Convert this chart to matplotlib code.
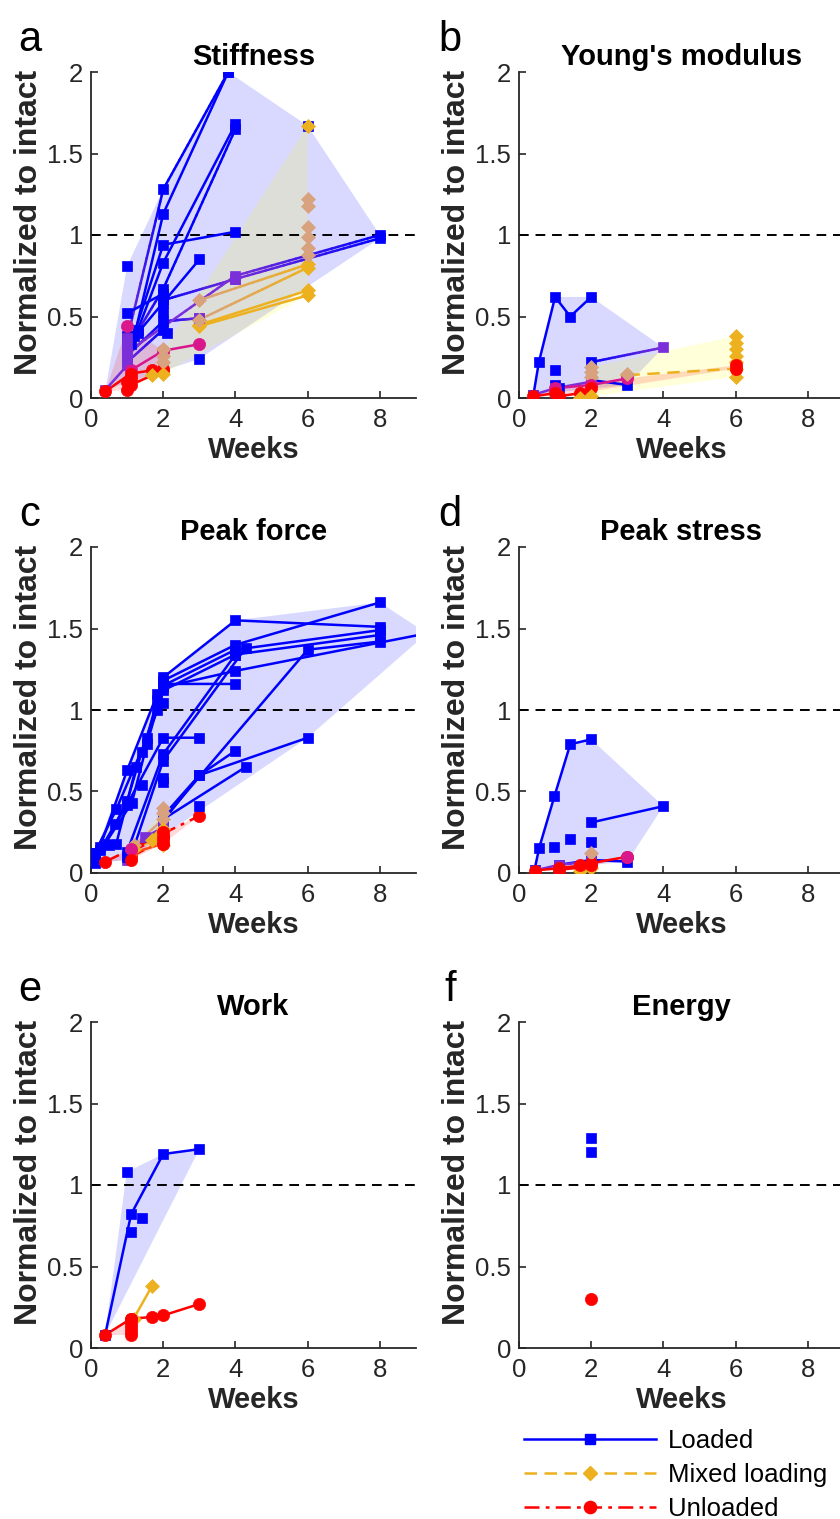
import numpy as np
import matplotlib
matplotlib.use('Agg')
import matplotlib.pyplot as plt
from matplotlib.collections import LineCollection
from matplotlib.lines import Line2D
from matplotlib.colors import to_rgb

plt.rcParams['font.family'] = ['Liberation Sans', 'DejaVu Sans']

# ---------------- data ----------------
WEEK_TICKS = [0, 2, 4, 6, 8]
Y_TICKS = [0, 0.5, 1, 1.5, 2]
Y_TICK_LABELS = ['0', '0.5', '1', '1.5', '2']
PANEL_TITLES = ['Stiffness', "Young's modulus", 'Peak force', 'Peak stress', 'Work', 'Energy']
PANEL_LETTERS = ['a', 'b', 'c', 'd', 'e', 'f']
LEGEND_LABELS = ['Loaded', 'Mixed loading', 'Unloaded']
INTACT_LEVEL = 1.0
X_LABEL = 'Weeks'
Y_LABEL = 'Normalized to intact'

# group codes: L loaded, P mostly loaded, X mixed, x mixed (dashed), T mixed/tan,
# M mostly unloaded, O partly unloaded, U unloaded, u unloaded (dash-dot)
# lines: (codes per point, weeks, values[, counted in envelope])
stiff_lines = [
    ('PLL', [1.0, 2.0, 3.8], [0.36, 1.28, 2.0]),
    ('L', [1.2, 2.0, 3.8], [0.38, 1.13, 2.0]),
    ('L', [1.3, 2.0, 4.0], [0.42, 0.83, 1.68]),
    ('PLL', [1.0, 2.0, 4.0], [0.30, 0.67, 1.65]),
    ('L', [1.0, 2.0], [0.52, 0.64]),
    ('L', [1.1, 2.0, 4.0], [0.33, 0.94, 1.02]),
    ('L', [1.3, 3.0], [0.40, 0.85]),
    ('PLP', [1.0, 2.0, 3.0], [0.26, 0.47, 0.49]),
    ('PL', [1.0, 2.0], [0.22, 0.42]),
    ('LPL', [2.0, 4.0, 8.0], [0.60, 0.73, 0.98]),
    ('PPL', [1.0, 4.0, 8.0], [0.28, 0.75, 1.00]),
    ('P', [0.4, 1.0], [0.05, 0.20]),
    ('TX', [3.0, 6.0], [0.60, 0.82]),
    ('TX', [3.0, 6.0], [0.48, 0.80]),
    ('X', [3.0, 6.0], [0.45, 0.66]),
    ('X', [3.0, 6.0], [0.44, 0.63]),
    ('M', [1.1, 2.0], [0.17, 0.29]),
    ('M', [2.0, 3.0], [0.29, 0.33], False),
    ('U', [0.4, 1.1, 1.7, 2.0], [0.04, 0.15, 0.17, 0.18]),
    ('U', [1.0, 1.1, 2.0], [0.05, 0.08, 0.17]),
]
stiff_points = [
    ('L', [1.0, 3.0, 2.0, 2.0, 2.1, 1.0, 6.0], [0.81, 0.24, 0.53, 0.58, 0.40, 0.38, 1.67]),
    ('P', [1.0, 1.0, 1.0, 4.0, 3.0], [0.37, 0.31, 0.24, 0.73, 0.49]),
    ('T', [2.0, 2.0, 2.0, 3.0, 6.0, 6.0, 6.0, 6.0, 6.0, 6.0],
          [0.22, 0.26, 0.30, 0.48, 1.22, 1.18, 1.05, 0.99, 0.92, 0.88]),
    ('X', [1.7, 2.0, 6.0], [0.14, 0.15, 1.67]),
    ('M', [1.0], [0.44]),
    ('U', [1.1, 1.0], [0.12, 0.10]),
]

youngs_lines = [
    ('L', [0.4, 0.55, 1.0, 1.42, 2.0], [0.02, 0.22, 0.62, 0.50, 0.62]),
    ('LP', [2.0, 4.0], [0.22, 0.31]),
    ('L', [1.0, 1.1], [0.08, 0.06]),
    ('L', [2.0, 3.0], [0.11, 0.08]),
    ('P', [0.4, 1.0, 2.0], [0.02, 0.06, 0.10]),
    ('T', [2.0, 2.0, 2.0], [0.19, 0.16, 0.13]),
    ('x', [3.0, 6.0], [0.14, 0.18]),
    ('X', [6.0, 6.0, 6.0, 6.0, 6.0, 6.0], [0.38, 0.34, 0.30, 0.26, 0.22, 0.13]),
    ('M', [1.0, 2.0, 3.0], [0.06, 0.08, 0.12]),
    ('U', [0.4, 1.0, 1.1, 1.7, 2.0], [0.01, 0.03, 0.01, 0.03, 0.06]),
    ('U', [6.0, 6.0], [0.20, 0.18]),
]
youngs_points = [
    ('L', [1.0], [0.17]),
    ('T', [3.0], [0.15]),
    ('X', [1.7, 2.0], [0.00, 0.01]),
]

force_lines = [
    ('L', [0.1, 0.7, 1.55, 2.0, 4.0, 8.0], [0.12, 0.39, 0.83, 1.20, 1.55, 1.51]),
    ('L', [0.25, 1.0, 1.84, 2.0, 4.0, 8.0], [0.16, 0.63, 1.10, 1.18, 1.40, 1.66]),
    ('L', [0.39, 1.13, 1.55, 2.0, 4.0, 8.0], [0.18, 0.43, 0.79, 1.15, 1.37, 1.49]),
    ('L', [0.11, 1.0, 1.4, 2.0, 4.0, 9.3], [0.06, 0.44, 0.74, 1.14, 1.24, 1.47]),
    ('L', [0.7, 1.25, 1.84, 2.0, 4.0], [0.18, 0.65, 1.00, 1.16, 1.16]),
    ('L', [1.84, 2.0, 4.0, 8.0], [1.06, 1.12, 1.34, 1.46]),
    ('L', [0.25, 0.67, 1.0, 2.0, 3.0], [0.14, 0.30, 0.42, 0.83, 0.83]),
    ('L', [1.0, 2.0, 4.0], [0.13, 0.73, 1.34]),
    ('L', [1.1, 2.0, 4.28], [0.10, 0.69, 1.38]),
    ('L', [2.0, 6.0, 8.0], [0.33, 1.37, 1.42]),
    ('L', [2.0, 3.0, 4.0], [0.32, 0.60, 0.75]),
    ('L', [2.0, 3.0, 6.0], [0.35, 0.60, 0.83]),
    ('L', [2.0, 4.28], [0.33, 0.65]),
    ('P', [1.0, 1.5, 2.0], [0.08, 0.22, 0.28]),
    ('T', [1.2, 2.0, 2.0, 2.0], [0.17, 0.33, 0.37, 0.40]),
    ('X', [1.2, 1.7, 2.0], [0.15, 0.20, 0.17]),
    ('u', [0.4, 3.0], [0.07, 0.35]),
    ('u', [1.1, 2.0], [0.10, 0.20]),
    ('u', [1.1, 2.0], [0.13, 0.23]),
    ('O', [1.1, 2.0], [0.12, 0.18]),
]
force_points = [
    ('L', [0.11, 2.0, 2.0, 1.4, 3.0, 2.0, 0.5, 1.0], [0.12, 0.58, 0.56, 0.54, 0.41, 1.04, 0.17, 0.10]),
    ('X', [1.9, 2.0], [0.24, 0.27]),
    ('M', [1.1], [0.15]),
    ('U', [2.0, 2.0, 2.0, 1.1], [0.18, 0.22, 0.25, 0.08]),
]

stress_lines = [
    ('L', [0.43, 0.56, 0.98, 1.42, 2.0], [0.02, 0.155, 0.47, 0.79, 0.82]),
    ('L', [2.0, 4.0], [0.31, 0.41]),
    ('L', [1.1, 2.0, 3.0], [0.05, 0.08, 0.07]),
    ('P', [0.43, 1.1, 2.0], [0.015, 0.05, 0.07]),
    ('U', [0.43, 1.12, 1.7, 2.0, 3.0], [0.015, 0.03, 0.045, 0.06, 0.10]),
    ('U', [1.12, 2.0], [0.02, 0.04]),
]
stress_points = [
    ('L', [0.98, 1.42, 2.0], [0.16, 0.21, 0.19]),
    ('T', [2.0], [0.12]),
    ('X', [1.7, 2.0], [0.01, 0.03]),
    ('M', [3.0], [0.10]),
    ('U', [2.0, 1.7], [0.05, 0.05]),
]

work_lines = [
    ('L', [0.39, 1.11, 2.0, 3.0], [0.08, 0.82, 1.19, 1.22]),
    ('X', [1.18, 1.69], [0.18, 0.38]),
    ('U', [0.39, 1.11], [0.08, 0.18]),
    ('U', [1.11, 1.69, 2.0, 3.0], [0.18, 0.19, 0.20, 0.27], False),
]
work_points = [
    ('L', [0.99, 1.11, 1.41], [1.08, 0.71, 0.80]),
    ('U', [1.11, 1.11, 1.11, 1.11], [0.15, 0.12, 0.10, 0.08]),
]

energy_lines = []
energy_points = [
    ('L', [2.0, 2.0], [1.29, 1.20]),
    ('U', [2.0], [0.30]),
]

PANELS = [
    (stiff_lines, stiff_points),
    (youngs_lines, youngs_points),
    (force_lines, force_points),
    (stress_lines, stress_points),
    (work_lines, work_points),
    (energy_lines, energy_points),
]

# ---------------- styles ----------------
COLORS = {'L': '#0000FF', 'P': '#7A2FD8', 'X': '#EDB120', 'x': '#EDB120',
          'T': '#D8A27E', 'M': '#D9168C', 'O': '#FF4A1A', 'U': '#FF0000', 'u': '#FF0000'}
MARKERS = {'L': 's', 'P': 's', 'X': 'D', 'x': 'D', 'T': 'D',
           'M': 'o', 'O': 'o', 'U': 'o', 'u': 'o'}
MSIZE = {'s': 7.5, 'D': 7, 'o': 8.8}
LSTYLE = {'x': (0, (5, 3)), 'u': (0, (6, 2.5, 1.5, 2.5))}
GROUP = {'L': 0, 'P': 0, 'X': 1, 'x': 1, 'T': 1, 'M': 2, 'O': 2, 'U': 2, 'u': 2}
HULL_COLORS = ['#0000FF', '#FFFF00', '#FF0000']
LW = 1.8


def convex_hull(pts):
    pts = sorted(set(pts))
    if len(pts) < 3:
        return None

    def cross(o, a, b):
        return (a[0] - o[0]) * (b[1] - o[1]) - (a[1] - o[1]) * (b[0] - o[0])
    lower = []
    for p in pts:
        while len(lower) >= 2 and cross(lower[-2], lower[-1], p) <= 0:
            lower.pop()
        lower.append(p)
    upper = []
    for p in reversed(pts):
        while len(upper) >= 2 and cross(upper[-2], upper[-1], p) <= 0:
            upper.pop()
        upper.append(p)
    hull = lower[:-1] + upper[:-1]
    return hull if len(hull) >= 3 else None


def expand(codes, n):
    codes = list(codes)
    return codes + [codes[-1]] * (n - len(codes))


def draw_markers(ax, codes, xs, ys):
    for c, x, y in zip(codes, xs, ys):
        m = MARKERS[c]
        ax.plot([x], [y], ls='none', marker=m, ms=MSIZE[m], color=COLORS[c],
                mec=COLORS[c], mew=0.5, zorder=4)


def draw_line(ax, codes, xs, ys):
    codes = expand(codes, len(xs))
    if len(set(codes)) == 1:
        ax.plot(xs, ys, color=COLORS[codes[0]], ls=LSTYLE.get(codes[0], '-'),
                lw=LW, zorder=3)
    else:
        segs, cols = [], []
        n = 24
        for i in range(len(xs) - 1):
            c0 = np.array(to_rgb(COLORS[codes[i]]))
            c1 = np.array(to_rgb(COLORS[codes[i + 1]]))
            t = np.linspace(0, 1, n + 1)
            px = xs[i] + (xs[i + 1] - xs[i]) * t
            py = ys[i] + (ys[i + 1] - ys[i]) * t
            for k in range(n):
                segs.append([(px[k], py[k]), (px[k + 1], py[k + 1])])
                f = (k + 0.5) / n
                cols.append(tuple(c0 * (1 - f) + c1 * f))
        ax.add_collection(LineCollection(segs, colors=cols, linewidths=LW,
                                         capstyle='round', zorder=3))
    draw_markers(ax, codes, xs, ys)


# ---------------- figure ----------------
W, H = 840, 1519
fig = plt.figure(figsize=(W / 100, H / 100), dpi=100)

col_left = [91, 519]
row_top = [72, 547, 1022]
ax_w, ax_h = 325, 326
letter_pos = [(30, 40), (450, 40), (30, 515), (450, 515), (30, 990), (450, 990)]
AX_COLOR = '#262626'

for i, (lines, points) in enumerate(PANELS):
    r, c = divmod(i, 2)
    left = col_left[c] / W
    bottom = 1 - (row_top[r] + ax_h) / H
    ax = fig.add_axes([left, bottom, ax_w / W, ax_h / H])

    # envelopes
    hull_pts = [[], [], []]
    for s in lines:
        codes, xs, ys = s[0], s[1], s[2]
        inc = s[3] if len(s) > 3 else True
        if not inc:
            continue
        for cc, x, y in zip(expand(codes, len(xs)), xs, ys):
            hull_pts[GROUP[cc]].append((x, y))
    for codes, xs, ys in points:
        for cc, x, y in zip(expand(codes, len(xs)), xs, ys):
            hull_pts[GROUP[cc]].append((x, y))
    for g in range(3):
        hull = convex_hull(hull_pts[g])
        if hull is not None:
            hx = [p[0] for p in hull]
            hy = [p[1] for p in hull]
            ax.fill(hx, hy, color=HULL_COLORS[g], alpha=0.15, lw=0, zorder=1)

    ax.axhline(INTACT_LEVEL, color='k', ls=(0, (5, 3.5)), lw=1.4, zorder=2)

    for s in lines:
        draw_line(ax, s[0], s[1], s[2])
    for codes, xs, ys in points:
        draw_markers(ax, expand(codes, len(xs)), xs, ys)

    ax.set_xlim(0, 9)
    ax.set_ylim(0, 2)
    ax.set_xticks(WEEK_TICKS)
    ax.set_yticks(Y_TICKS)
    ax.set_yticklabels(Y_TICK_LABELS)
    for sp in ['top', 'right']:
        ax.spines[sp].set_visible(False)
    for sp in ['left', 'bottom']:
        ax.spines[sp].set_color(AX_COLOR)
        ax.spines[sp].set_linewidth(1.3)
    ax.tick_params(direction='in', length=5, width=1.2, colors=AX_COLOR,
                   labelsize=18.5, labelcolor=AX_COLOR)
    ax.tick_params(axis='x', pad=7.5)
    ax.tick_params(axis='y', pad=5.5)
    ax.set_xlabel(X_LABEL, fontsize=21, fontweight='bold', labelpad=2.5, color=AX_COLOR)
    ax.set_ylabel(Y_LABEL, fontsize=23, fontweight='bold', labelpad=2.5, color=AX_COLOR)
    ax.yaxis.label.set_y(0.54)
    ax.set_title(PANEL_TITLES[i], fontsize=21, fontweight='bold', pad=5)

    lx, ly = letter_pos[i]
    fig.text(lx / W, 1 - ly / H, PANEL_LETTERS[i], fontsize=30,
             ha='center', va='center', color='k')

handles = [
    Line2D([], [], color=COLORS['L'], ls='-', lw=LW, marker='s', ms=7.5),
    Line2D([], [], color=COLORS['X'], ls=LSTYLE['x'], lw=LW, marker='D', ms=7),
    Line2D([], [], color=COLORS['U'], ls=LSTYLE['u'], lw=LW, marker='o', ms=8.8),
]
fig.legend(handles, LEGEND_LABELS, loc='upper left',
           bbox_to_anchor=(524 / W, 1 - 1429 / H), frameon=False,
           fontsize=18.5, handlelength=5.15, handletextpad=0.45,
           labelspacing=0.38, borderpad=0, borderaxespad=0, numpoints=1)

fig.savefig('out.png', dpi=100)
